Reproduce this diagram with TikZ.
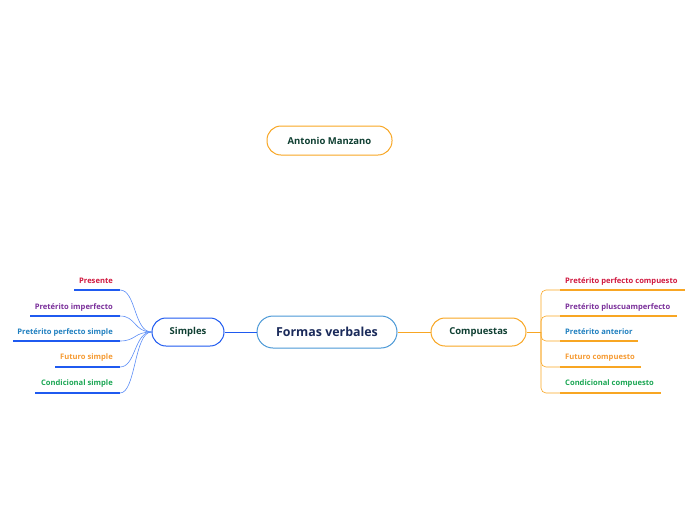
\documentclass[tikz,border=0pt]{standalone}
\usepackage{fontspec}
\setmainfont{Open Sans}
\usetikzlibrary{positioning}
\definecolor{rootblue}{HTML}{4A98D6}
\definecolor{sblue}{HTML}{1F5AF0}
\definecolor{cblue}{HTML}{5A8CF6}
\definecolor{corange}{HTML}{F8A623}
\definecolor{navy}{HTML}{1A2A5A}
\definecolor{teal}{HTML}{0F3F32}
\definecolor{lred}{HTML}{D0183F}
\definecolor{lpurple}{HTML}{7A2F9A}
\definecolor{lblue}{HTML}{1F7FBF}
\definecolor{lorange}{HTML}{F59A32}
\definecolor{lgreen}{HTML}{1AA653}
\tikzset{
  topic/.style={draw, fill=white, line width=1pt, rounded corners=14pt,
    minimum height=28pt, inner sep=0pt, text=teal,
    font=\bfseries\fontsize{9.5}{11}\selectfont},
  leaf/.style={inner sep=0pt, font=\bfseries\fontsize{7.6}{9}\selectfont},
  sline/.style={sblue, line width=1.8pt},
  cline/.style={corange, line width=1.5pt}
}
\begin{document}
\begin{tikzpicture}[x=1pt, y=-1pt]
\useasboundingbox (0,0) rectangle (696,520);

% main topics
\node[topic, draw=rootblue, minimum width=140pt, minimum height=32pt, rounded corners=16pt,
  text=navy, font=\bfseries\fontsize{12.4}{14}\selectfont] (F) at (327,332) {Formas verbales};
\node[topic, draw=sblue, minimum width=72pt] (S) at (188,332) {Simples};
\node[topic, draw=corange, minimum width=95pt] (C) at (478.5,332) {Compuestas};
\node[topic, draw=corange, minimum width=125pt, minimum height=29pt] (A) at (329.5,140.5) {Antonio Manzano};

\draw[sblue, line width=1pt] (F) -- (S);
\draw[corange, line width=1pt] (F) -- (C);

% simples
\foreach \i/\yu/\xs/\col/\txt in {1/290/74/lred/Presente,
    2/316/30/lpurple/Pretérito imperfecto,
    3/341/13/lblue/Pretérito perfecto simple,
    4/367/55/lorange/Futuro simple,
    5/393/35/lgreen/Condicional simple}{
  \coordinate (s\i a) at (\xs,\yu);
  \coordinate (s\i b) at (120,\yu);
  \node[leaf, text=\col, anchor=east] (s\i) at (113,\yu-9) {\txt};
  \draw[sline] (s\i a) -- (s\i b);
  \draw[cblue, line width=0.6pt] (S.west) .. controls (134,332) and (136,\yu) .. (s\i b);
}

% compuestas
\coordinate (cj) at (541,332);
\draw[corange, line width=1pt] (C) -- (cj);
\foreach \i/\yu/\xe/\col/\txt in {1/290/685/lred/Pretérito perfecto compuesto,
    2/316/677/lpurple/Pretérito pluscuamperfecto,
    3/341/638/lblue/Pretérito anterior,
    4/367/641/lorange/Futuro compuesto,
    5/393/661/lgreen/Condicional compuesto}{
  \coordinate (c\i a) at (560,\yu);
  \coordinate (c\i b) at (\xe,\yu);
  \node[leaf, text=\col, anchor=west] (c\i) at (565,\yu-9) {\txt};
  \draw[cline] (c\i a) -- (c\i b);
  \draw[corange, line width=0.6pt, rounded corners=5pt] (cj) |- (c\i a);
}
\end{tikzpicture}
\end{document}
